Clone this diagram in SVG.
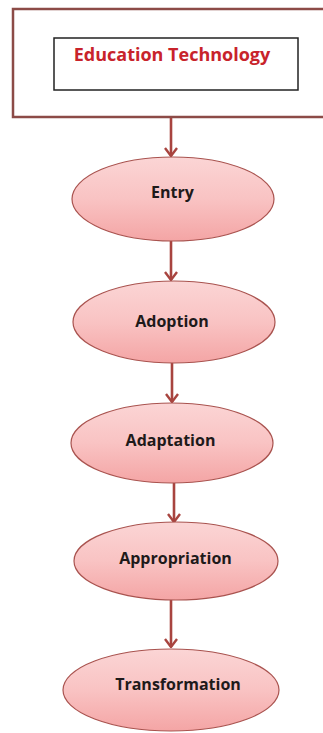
<svg xmlns="http://www.w3.org/2000/svg" width="323" height="733" viewBox="0 0 323 733">
<defs>
<linearGradient id="pink" x1="0" y1="0" x2="0" y2="1">
<stop offset="0" stop-color="#fbd5d5"/>
<stop offset="0.5" stop-color="#f9c3c3"/>
<stop offset="1" stop-color="#f4a5a5"/>
</linearGradient>
<marker id="chev" viewBox="0 0 10 14" refX="9" refY="7" markerWidth="10" markerHeight="14" markerUnits="userSpaceOnUse" orient="auto">
<path d="M1,1 L9,7 L1,13" fill="none" stroke="#a8443f" stroke-width="2.4" stroke-linejoin="miter"/>
</marker>
</defs>
<style>
.ell{fill:url(#pink);stroke:#a9534f;stroke-width:1.2}
.lbl{font-family:"Open Sans","Liberation Sans",sans-serif;font-weight:700;font-size:16px;fill:#1e1a1a;text-anchor:middle}
.conn{stroke:#a8443f;stroke-width:2.6;fill:none}
</style>
<rect width="323" height="733" fill="#ffffff"/>
<g id="education-technology">
<rect x="13" y="9" width="315" height="108" fill="#ffffff" stroke="#8c4b47" stroke-width="2.5"/>
<rect x="54" y="38" width="244" height="52" fill="#ffffff" stroke="#222222" stroke-width="1.5"/>
<text x="172" y="61" font-family="Open Sans, Liberation Sans, sans-serif" font-weight="700" font-size="18" fill="#c8232b" text-anchor="middle">Education Technology</text>
</g>
<g id="connectors">
<line class="conn" x1="171" y1="118" x2="171" y2="156" marker-end="url(#chev)"/>
<line class="conn" x1="171" y1="241" x2="171" y2="280" marker-end="url(#chev)"/>
<line class="conn" x1="172" y1="363" x2="172" y2="402" marker-end="url(#chev)"/>
<line class="conn" x1="174" y1="483" x2="174" y2="522" marker-end="url(#chev)"/>
<line class="conn" x1="171" y1="600" x2="171" y2="647" marker-end="url(#chev)"/>
</g>
<g id="entry">
<ellipse class="ell" cx="173" cy="199" rx="101" ry="42"/>
<text class="lbl" x="172.5" y="198">Entry</text>
</g>
<g id="adoption">
<ellipse class="ell" cx="174" cy="322" rx="101" ry="41"/>
<text class="lbl" x="172" y="327">Adoption</text>
</g>
<g id="adaptation">
<ellipse class="ell" cx="172" cy="443" rx="101" ry="40"/>
<text class="lbl" x="170.5" y="446">Adaptation</text>
</g>
<g id="appropriation">
<ellipse class="ell" cx="176" cy="561" rx="102" ry="39"/>
<text class="lbl" x="175.5" y="564">Appropriation</text>
</g>
<g id="transformation">
<ellipse class="ell" cx="171" cy="690" rx="108" ry="41"/>
<text class="lbl" x="178" y="690">Transformation</text>
</g>
</svg>
